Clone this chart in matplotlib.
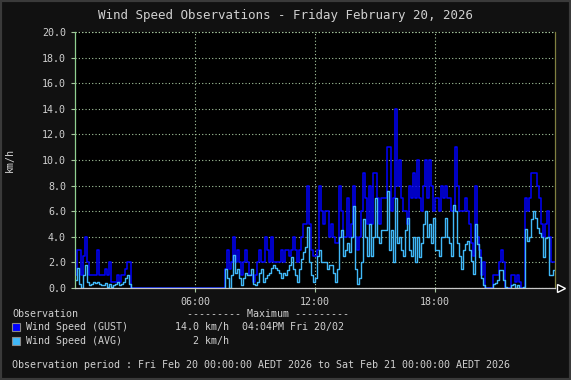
import numpy as np
import matplotlib
matplotlib.use("Agg")
import matplotlib.pyplot as plt
from matplotlib.patches import Rectangle

# 6-minute samples, one row per hour (00:00 .. 23:54)
gust_kmh = [
    1.0, 3.0, 3.0, 1.0, 2.5, 4.0, 2.0, 1.0, 1.0, 1.0,
    1.0, 3.0, 1.0, 1.0, 1.0, 1.5, 1.0, 2.0, 0.5, 0.5,
    0.5, 1.0, 0.5, 1.0, 1.0, 1.5, 2.0, 2.0, 0.0, 0.0,
    0, 0, 0, 0, 0, 0, 0, 0, 0, 0,
    0, 0, 0, 0, 0, 0, 0, 0, 0, 0,
    0, 0, 0, 0, 0, 0, 0, 0, 0, 0,
    0, 0, 0, 0, 0, 0, 0, 0, 0, 0,
    0, 0, 0, 0, 0, 1.5, 3.0, 1.5, 2.0, 4.0,
    2.0, 3.0, 2.0, 1.0, 2.0, 3.0, 2.0, 1.0, 1.0, 0.5,
    1.0, 2.0, 3.0, 2.0, 2.0, 4.0, 3.0, 2.0, 4.0, 2.0,
    2.0, 2.0, 2.0, 3.0, 2.0, 3.0, 3.0, 2.5, 3.0, 4.0,
    3.0, 2.0, 3.0, 4.0, 5.0, 5.0, 8.0, 5.0, 3.0, 2.5,
    2.5, 3.0, 8.0, 6.0, 5.0, 6.0, 6.0, 4.0, 5.0, 4.0,
    3.5, 3.5, 8.0, 6.0, 4.0, 4.0, 7.0, 4.0, 5.0, 8.0,
    4.0, 3.0, 4.0, 6.0, 9.0, 7.0, 5.0, 8.0, 5.0, 9.0,
    9.0, 7.0, 5.0, 7.0, 7.0, 7.0, 11.0, 11.0, 6.0, 7.0,
    14.0, 8.0, 10.0, 7.0, 6.0, 6.0, 5.0, 8.0, 7.0, 9.0,
    7.0, 10.0, 7.0, 6.0, 8.0, 10.0, 7.0, 10.0, 8.0, 6.0,
    7.0, 7.0, 6.0, 8.0, 7.0, 8.0, 7.0, 7.0, 6.0, 6.0,
    11.0, 8.0, 6.0, 6.0, 6.0, 7.0, 6.0, 5.0, 3.5, 2.5,
    8.0, 4.0, 3.0, 1.0, 2.0, 0, 0, 0, 0, 1.0,
    1.0, 1.0, 2.0, 3.0, 2.0, 0, 0, 0, 1.0, 1.0,
    0.5, 1.0, 0.5, 0, 0, 7.0, 6.0, 7.0, 9.0, 9.0,
    9.0, 8.0, 7.0, 5.0, 4.0, 5.0, 6.0, 4.0, 2.0, 2.0,
]

avg_kmh = [
    0.6, 1.6, 0.3, 0.0, 1.0, 1.8, 0.5, 0.2, 0.3, 0.5,
    0.4, 0.5, 0.3, 0.2, 0.2, 0.4, 0.1, 0.3, 0.1, 0.2,
    0.3, 0.5, 0.2, 0.3, 0.5, 0.8, 1.0, 0.3, 0.0, 0.0,
    0, 0, 0, 0, 0, 0, 0, 0, 0, 0,
    0, 0, 0, 0, 0, 0, 0, 0, 0, 0,
    0, 0, 0, 0, 0, 0, 0, 0, 0, 0,
    0, 0, 0, 0, 0, 0, 0, 0, 0, 0,
    0, 0, 0, 0, 0, 1.5, 0.8, 0.0, 1.0, 2.6,
    1.2, 1.5, 0.8, 0.2, 0.8, 1.2, 1.0, 1.0, 1.5, 0.3,
    0.2, 0.5, 1.2, 1.5, 0.5, 0.8, 1.0, 1.2, 1.6, 1.8,
    1.6, 1.4, 1.2, 0.8, 1.2, 1.0, 1.4, 1.8, 2.4, 1.5,
    1.0, 0.5, 1.5, 2.3, 2.8, 3.2, 4.8, 2.0, 1.0, 0.5,
    0.8, 2.5, 3.0, 2.0, 2.0, 2.0, 1.5, 1.8, 1.8, 1.2,
    0.5, 1.5, 4.0, 4.5, 2.5, 3.0, 3.5, 2.8, 4.0, 6.4,
    1.5, 0.3, 0.8, 2.0, 5.4, 4.0, 2.5, 5.0, 2.5, 4.0,
    7.0, 4.0, 3.5, 4.5, 4.5, 4.5, 7.6, 3.0, 4.5, 2.0,
    7.0, 3.5, 4.0, 3.0, 2.5, 4.5, 5.5, 3.0, 2.5, 4.0,
    2.0, 4.0, 2.4, 3.5, 5.0, 6.0, 4.0, 5.0, 3.5, 5.5,
    3.0, 3.0, 2.5, 4.0, 4.0, 5.5, 4.0, 3.5, 2.5, 6.5,
    6.0, 3.5, 2.5, 1.5, 3.0, 3.4, 3.7, 3.0, 2.1, 1.1,
    5.0, 3.4, 2.4, 0.8, 0.2, 0, 0, 0, 0, 0.3,
    0.4, 0.6, 1.4, 1.4, 0.6, 0.1, 0, 0, 0.2, 0.3,
    0, 0.2, 0, 0, 0.1, 4.6, 3.7, 4.0, 5.4, 6.0,
    5.5, 4.7, 4.3, 4.0, 2.4, 3.9, 4.0, 1.0, 1.0, 1.4,
]

x_ticks = [6, 12, 18]
x_labels = ["06:00", "12:00", "18:00"]
y_ticks = [0, 2, 4, 6, 8, 10, 12, 14, 16, 18, 20]

TXT = "#d0d0d0"
GRID = "#a8c8a0"
GUST_C = "#0000ff"
AVG_C = "#40b8f8"
MONO = "DejaVu Sans Mono"

W, H = 571, 380
fig = plt.figure(figsize=(W / 100, H / 100), dpi=100)
fig.patch.set_facecolor("#111111")
fig.patches.append(Rectangle((0, 0), 1, 1, transform=fig.transFigure,
                             fill=False, edgecolor="#3a3a3a", lw=3))

ax = fig.add_axes([75 / W, (H - 288) / H, 480 / W, 256 / H])
ax.set_facecolor("black")

t = np.arange(len(gust_kmh) + 1) / 10.0
g = np.append(gust_kmh, gust_kmh[-1])
a = np.append(avg_kmh, avg_kmh[-1])
ax.step(t, g, where="post", color=GUST_C, lw=1.1)
ax.step(t, a, where="post", color=AVG_C, lw=1.0)

ax.set_xlim(0, 24)
ax.set_ylim(0, 20)
ax.set_xticks(x_ticks)
ax.set_xticklabels(x_labels)
ax.set_yticks(y_ticks)
ax.set_yticklabels(["%.1f" % v for v in y_ticks])
ax.grid(True, color=GRID, linestyle=(0, (1, 2)), lw=0.8)
ax.axhline(20, color=GRID, linestyle=(0, (1, 2)), lw=0.8, clip_on=False)

ax.tick_params(colors=GRID, labelcolor=TXT, labelsize=7.2, length=3, width=0.8)
for lab in ax.get_xticklabels() + ax.get_yticklabels():
    lab.set_family(MONO)

ax.spines["top"].set_visible(False)
ax.spines["left"].set_color("#90d090")
ax.spines["right"].set_color("#808040")
ax.spines["bottom"].set_color("#c8c8c8")
for s in ax.spines.values():
    s.set_linewidth(0.9)
ax.plot([24.3], [0], marker=">", markersize=6, markerfacecolor="black",
        markeredgecolor="white", markeredgewidth=1.0, clip_on=False)

ax.set_ylabel("km/h", color=TXT, fontsize=7.2, family=MONO)
ax.yaxis.set_label_coords(-60 / 480, 0.5)

fig.text(0.5, 1 - 16 / H, "Wind Speed Observations - Friday February 20, 2026",
         ha="center", va="center", color=TXT, fontsize=9, family=MONO)

def ftext(x, y, s, **kw):
    fig.text(x / W, 1 - y / H, s, va="center", color=TXT, fontsize=7.2,
             family=MONO, **kw)

ftext(12, 314, "Observation")
ftext(187, 314, "--------- Maximum ---------")
for yy, col, name, val, when in [(327, GUST_C, "Wind Speed (GUST)", "14.0 km/h", "04:04PM Fri 20/02"),
                                 (341, AVG_C, "Wind Speed (AVG)", "2 km/h", "")]:
    fig.patches.append(Rectangle((12 / W, 1 - (yy + 4) / H), 8 / W, 8 / H,
                                 transform=fig.transFigure, facecolor=col,
                                 edgecolor="#888888", lw=0.8))
    ftext(26, yy, name)
    ftext(229, yy, val, ha="right")
    ftext(242, yy, when)
ftext(12, 365, "Observation period : Fri Feb 20 00:00:00 AEDT 2026 to Sat Feb 21 00:00:00 AEDT 2026")

fig.savefig("out.png", dpi=100, facecolor=fig.get_facecolor())
